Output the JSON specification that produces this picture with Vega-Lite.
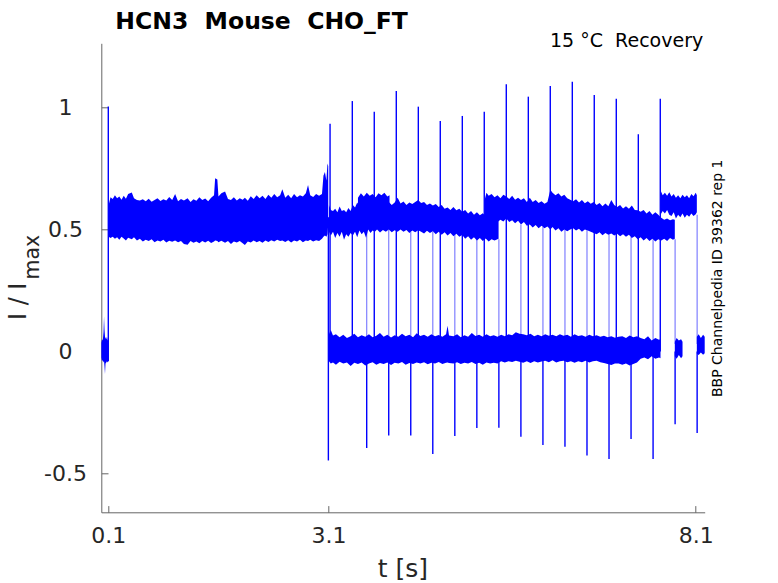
{
"$schema": "https://vega.github.io/schema/vega-lite/v6.json",
"width": 603.4,
"height": 469,
"autosize": {"type": "none"},
"padding": {"left": 101.3, "top": 43.3, "right": 73.3, "bottom": 70.7},
"title": {"text": "HCN3\u00a0\u00a0Mouse\u00a0\u00a0CHO_FT", "anchor": "start", "frame": "group", "dx": 14, "dy": 23.2, "offset": 2.6, "baseline": "alphabetic", "fontSize": 23.5, "fontWeight": "bold", "color": "#000000", "font": "DejaVu Sans"},
"config": {"font": "DejaVu Sans", "view": {"stroke": null}, "axis": {"grid": false}},
"datasets": {
"bands": [
{"s":"a","t":0.005,"lo":-0.025,"hi":0.035},{"s":"a","t":0.015,"lo":-0.04,"hi":0.05},{"s":"a","t":0.025,"lo":-0.035,"hi":0.045},{"s":"a","t":0.035,"lo":-0.045,"hi":0.08},{"s":"a","t":0.042,"lo":-0.04,"hi":0.143},{"s":"a","t":0.048,"lo":-0.06,"hi":0.09},{"s":"a","t":0.055,"lo":-0.093,"hi":0.06},{"s":"a","t":0.062,"lo":-0.05,"hi":0.055},{"s":"a","t":0.072,"lo":-0.045,"hi":0.05},{"s":"a","t":0.082,"lo":-0.04,"hi":0.06},{"s":"a","t":0.092,"lo":-0.045,"hi":0.045},{"s":"a","t":0.099,"lo":-0.04,"hi":0.05},
{"s":"b","t":0.105,"lo":0.47,"hi":0.6},{"s":"b","t":0.13,"lo":0.465,"hi":0.632},{"s":"b","t":0.16,"lo":0.47,"hi":0.625},{"s":"b","t":0.19,"lo":0.462,"hi":0.64},{"s":"b","t":0.22,"lo":0.468,"hi":0.628},{"s":"b","t":0.25,"lo":0.458,"hi":0.635},{"s":"b","t":0.28,"lo":0.47,"hi":0.622},{"s":"b","t":0.31,"lo":0.463,"hi":0.638},{"s":"b","t":0.34,"lo":0.455,"hi":0.626},{"s":"b","t":0.37,"lo":0.466,"hi":0.645},{"s":"b","t":0.42,"lo":0.46,"hi":0.651},{"s":"b","t":0.45,"lo":0.468,"hi":0.628},{"s":"b","t":0.49,"lo":0.455,"hi":0.62},{"s":"b","t":0.53,"lo":0.462,"hi":0.618},{"s":"b","t":0.57,"lo":0.45,"hi":0.624},{"s":"b","t":0.61,"lo":0.458,"hi":0.615},{"s":"b","t":0.65,"lo":0.452,"hi":0.626},{"s":"b","t":0.69,"lo":0.46,"hi":0.613},{"s":"b","t":0.73,"lo":0.447,"hi":0.62},{"s":"b","t":0.77,"lo":0.455,"hi":0.628},{"s":"b","t":0.81,"lo":0.45,"hi":0.616},{"s":"b","t":0.85,"lo":0.458,"hi":0.624},{"s":"b","t":0.89,"lo":0.446,"hi":0.618},{"s":"b","t":0.93,"lo":0.453,"hi":0.633},{"s":"b","t":0.97,"lo":0.449,"hi":0.62},{"s":"b","t":1.01,"lo":0.455,"hi":0.645},{"s":"b","t":1.05,"lo":0.447,"hi":0.615},{"s":"b","t":1.09,"lo":0.452,"hi":0.625},{"s":"b","t":1.13,"lo":0.44,"hi":0.618},{"s":"b","t":1.18,"lo":0.437,"hi":0.628},{"s":"b","t":1.22,"lo":0.452,"hi":0.612},{"s":"b","t":1.26,"lo":0.445,"hi":0.624},{"s":"b","t":1.3,"lo":0.45,"hi":0.617},{"s":"b","t":1.34,"lo":0.443,"hi":0.632},{"s":"b","t":1.38,"lo":0.452,"hi":0.62},{"s":"b","t":1.42,"lo":0.446,"hi":0.627},{"s":"b","t":1.46,"lo":0.453,"hi":0.615},{"s":"b","t":1.5,"lo":0.444,"hi":0.63},{"s":"b","t":1.54,"lo":0.45,"hi":0.64},{"s":"b","t":1.555,"lo":0.455,"hi":0.71},{"s":"b","t":1.585,"lo":0.452,"hi":0.705},{"s":"b","t":1.6,"lo":0.447,"hi":0.635},{"s":"b","t":1.64,"lo":0.453,"hi":0.648},{"s":"b","t":1.69,"lo":0.445,"hi":0.655},{"s":"b","t":1.73,"lo":0.452,"hi":0.625},{"s":"b","t":1.77,"lo":0.44,"hi":0.62},{"s":"b","t":1.81,"lo":0.45,"hi":0.632},{"s":"b","t":1.85,"lo":0.446,"hi":0.618},{"s":"b","t":1.89,"lo":0.452,"hi":0.628},{"s":"b","t":1.93,"lo":0.443,"hi":0.622},{"s":"b","t":1.96,"lo":0.436,"hi":0.63},{"s":"b","t":2.0,"lo":0.45,"hi":0.617},{"s":"b","t":2.04,"lo":0.446,"hi":0.636},{"s":"b","t":2.08,"lo":0.455,"hi":0.625},{"s":"b","t":2.12,"lo":0.447,"hi":0.64},{"s":"b","t":2.16,"lo":0.452,"hi":0.628},{"s":"b","t":2.2,"lo":0.445,"hi":0.638},{"s":"b","t":2.24,"lo":0.455,"hi":0.625},{"s":"b","t":2.28,"lo":0.448,"hi":0.642},{"s":"b","t":2.32,"lo":0.456,"hi":0.63},{"s":"b","t":2.36,"lo":0.45,"hi":0.645},{"s":"b","t":2.4,"lo":0.458,"hi":0.632},{"s":"b","t":2.44,"lo":0.452,"hi":0.64},{"s":"b","t":2.47,"lo":0.455,"hi":0.665},{"s":"b","t":2.51,"lo":0.448,"hi":0.63},{"s":"b","t":2.55,"lo":0.456,"hi":0.642},{"s":"b","t":2.59,"lo":0.446,"hi":0.628},{"s":"b","t":2.63,"lo":0.455,"hi":0.645},{"s":"b","t":2.67,"lo":0.45,"hi":0.632},{"s":"b","t":2.71,"lo":0.458,"hi":0.64},{"s":"b","t":2.75,"lo":0.447,"hi":0.635},{"s":"b","t":2.79,"lo":0.455,"hi":0.648},{"s":"b","t":2.82,"lo":0.452,"hi":0.682},{"s":"b","t":2.85,"lo":0.458,"hi":0.64},{"s":"b","t":2.89,"lo":0.45,"hi":0.633},{"s":"b","t":2.93,"lo":0.456,"hi":0.645},{"s":"b","t":2.97,"lo":0.452,"hi":0.638},{"s":"b","t":3.01,"lo":0.462,"hi":0.645},{"s":"b","t":3.03,"lo":0.47,"hi":0.72},{"s":"b","t":3.05,"lo":0.475,"hi":0.735},{"s":"b","t":3.07,"lo":0.47,"hi":0.7},{"s":"b","t":3.085,"lo":0.48,"hi":0.77},{"s":"b","t":3.095,"lo":0.52,"hi":0.76},
{"s":"c","t":3.105,"lo":0.49,"hi":0.6},{"s":"c","t":3.13,"lo":0.475,"hi":0.58},{"s":"c","t":3.16,"lo":0.49,"hi":0.575},{"s":"c","t":3.19,"lo":0.465,"hi":0.585},{"s":"c","t":3.22,"lo":0.485,"hi":0.57},{"s":"c","t":3.25,"lo":0.47,"hi":0.594},{"s":"c","t":3.28,"lo":0.49,"hi":0.575},{"s":"c","t":3.31,"lo":0.458,"hi":0.58},{"s":"c","t":3.34,"lo":0.48,"hi":0.57},{"s":"c","t":3.37,"lo":0.47,"hi":0.588},{"s":"c","t":3.4,"lo":0.485,"hi":0.575},{"s":"c","t":3.43,"lo":0.475,"hi":0.6},{"s":"c","t":3.46,"lo":0.49,"hi":0.59},{"s":"c","t":3.49,"lo":0.468,"hi":0.61},{"s":"c","t":3.52,"lo":0.495,"hi":0.595},{"s":"c","t":3.55,"lo":0.48,"hi":0.605},{"s":"c","t":3.58,"lo":0.49,"hi":0.59},{"s":"c","t":3.61,"lo":0.466,"hi":0.6},{"s":"c","t":3.64,"lo":0.5,"hi":0.61},{"s":"c","t":3.67,"lo":0.485,"hi":0.598},{"s":"c","t":3.7,"lo":0.495,"hi":0.612},{"s":"c","t":3.73,"lo":0.49,"hi":0.605},{"s":"c","t":3.76,"lo":0.5,"hi":0.615},{"s":"c","t":3.8,"lo":0.487,"hi":0.603},{"s":"c","t":3.84,"lo":0.498,"hi":0.618},{"s":"c","t":3.88,"lo":0.49,"hi":0.605},{"s":"c","t":3.92,"lo":0.5,"hi":0.612},{"s":"c","t":3.96,"lo":0.488,"hi":0.6},{"s":"c","t":4.0,"lo":0.497,"hi":0.61},{"s":"c","t":4.04,"lo":0.49,"hi":0.63},{"s":"c","t":4.08,"lo":0.5,"hi":0.606},{"s":"c","t":4.12,"lo":0.49,"hi":0.614},{"s":"c","t":4.16,"lo":0.498,"hi":0.6},{"s":"c","t":4.2,"lo":0.485,"hi":0.61},{"s":"c","t":4.24,"lo":0.495,"hi":0.604},{"s":"c","t":4.28,"lo":0.488,"hi":0.612},{"s":"c","t":4.32,"lo":0.497,"hi":0.62},{"s":"c","t":4.36,"lo":0.49,"hi":0.608},{"s":"c","t":4.4,"lo":0.483,"hi":0.612},{"s":"c","t":4.44,"lo":0.494,"hi":0.6},{"s":"c","t":4.48,"lo":0.485,"hi":0.606},{"s":"c","t":4.52,"lo":0.492,"hi":0.598},{"s":"c","t":4.56,"lo":0.48,"hi":0.604},{"s":"c","t":4.6,"lo":0.49,"hi":0.592},{"s":"c","t":4.64,"lo":0.478,"hi":0.6},{"s":"c","t":4.68,"lo":0.488,"hi":0.585},{"s":"c","t":4.72,"lo":0.475,"hi":0.59},{"s":"c","t":4.76,"lo":0.485,"hi":0.58},{"s":"c","t":4.8,"lo":0.472,"hi":0.592},{"s":"c","t":4.84,"lo":0.482,"hi":0.578},{"s":"c","t":4.88,"lo":0.47,"hi":0.585},{"s":"c","t":4.92,"lo":0.477,"hi":0.572},{"s":"c","t":4.96,"lo":0.462,"hi":0.58},{"s":"c","t":5.0,"lo":0.472,"hi":0.565},{"s":"c","t":5.04,"lo":0.458,"hi":0.575},{"s":"c","t":5.08,"lo":0.468,"hi":0.56},{"s":"c","t":5.12,"lo":0.455,"hi":0.57},{"s":"c","t":5.16,"lo":0.465,"hi":0.558},{"s":"c","t":5.2,"lo":0.452,"hi":0.566},{"s":"c","t":5.24,"lo":0.463,"hi":0.555},{"s":"c","t":5.28,"lo":0.45,"hi":0.562},{"s":"c","t":5.32,"lo":0.46,"hi":0.552},{"s":"c","t":5.36,"lo":0.455,"hi":0.558},{"s":"c","t":5.415,"lo":0.462,"hi":0.55},
{"s":"c2","t":3.5,"lo":0.56,"hi":0.63},{"s":"c2","t":3.54,"lo":0.545,"hi":0.648},{"s":"c2","t":3.58,"lo":0.56,"hi":0.635},{"s":"c2","t":3.62,"lo":0.55,"hi":0.65},{"s":"c2","t":3.66,"lo":0.562,"hi":0.638},{"s":"c2","t":3.7,"lo":0.548,"hi":0.645},{"s":"c2","t":3.74,"lo":0.56,"hi":0.632},{"s":"c2","t":3.78,"lo":0.552,"hi":0.648},{"s":"c2","t":3.82,"lo":0.565,"hi":0.64},{"s":"c2","t":3.86,"lo":0.555,"hi":0.65},{"s":"c2","t":3.9,"lo":0.565,"hi":0.635},{"s":"c2","t":3.93,"lo":0.56,"hi":0.64},
{"s":"d","t":5.225,"lo":0.55,"hi":0.62},{"s":"d","t":5.25,"lo":0.535,"hi":0.65},{"s":"d","t":5.28,"lo":0.548,"hi":0.638},{"s":"d","t":5.32,"lo":0.53,"hi":0.645},{"s":"d","t":5.36,"lo":0.545,"hi":0.632},{"s":"d","t":5.4,"lo":0.53,"hi":0.64},{"s":"d","t":5.44,"lo":0.54,"hi":0.628},{"s":"d","t":5.48,"lo":0.532,"hi":0.642},{"s":"d","t":5.52,"lo":0.545,"hi":0.635},{"s":"d","t":5.56,"lo":0.53,"hi":0.625},{"s":"d","t":5.6,"lo":0.537,"hi":0.638},{"s":"d","t":5.64,"lo":0.525,"hi":0.622},{"s":"d","t":5.68,"lo":0.535,"hi":0.63},{"s":"d","t":5.72,"lo":0.52,"hi":0.62},{"s":"d","t":5.76,"lo":0.53,"hi":0.628},{"s":"d","t":5.8,"lo":0.515,"hi":0.612},{"s":"d","t":5.84,"lo":0.52,"hi":0.63},{"s":"d","t":5.88,"lo":0.508,"hi":0.612},{"s":"d","t":5.92,"lo":0.518,"hi":0.62},{"s":"d","t":5.96,"lo":0.505,"hi":0.608},{"s":"d","t":6.0,"lo":0.515,"hi":0.615},{"s":"d","t":6.04,"lo":0.505,"hi":0.605},{"s":"d","t":6.08,"lo":0.512,"hi":0.612},{"s":"d","t":6.12,"lo":0.5,"hi":0.662},{"s":"d","t":6.15,"lo":0.51,"hi":0.65},{"s":"d","t":6.19,"lo":0.495,"hi":0.64},{"s":"d","t":6.23,"lo":0.505,"hi":0.648},{"s":"d","t":6.27,"lo":0.49,"hi":0.635},{"s":"d","t":6.31,"lo":0.5,"hi":0.642},{"s":"d","t":6.35,"lo":0.492,"hi":0.628},{"s":"d","t":6.39,"lo":0.5,"hi":0.622},{"s":"d","t":6.43,"lo":0.505,"hi":0.615},{"s":"d","t":6.47,"lo":0.495,"hi":0.624},{"s":"d","t":6.51,"lo":0.503,"hi":0.61},{"s":"d","t":6.55,"lo":0.49,"hi":0.62},{"s":"d","t":6.59,"lo":0.5,"hi":0.607},{"s":"d","t":6.63,"lo":0.495,"hi":0.615},{"s":"d","t":6.67,"lo":0.49,"hi":0.605},{"s":"d","t":6.71,"lo":0.485,"hi":0.612},{"s":"d","t":6.75,"lo":0.48,"hi":0.6},{"s":"d","t":6.79,"lo":0.488,"hi":0.608},{"s":"d","t":6.83,"lo":0.476,"hi":0.595},{"s":"d","t":6.87,"lo":0.485,"hi":0.606},{"s":"d","t":6.91,"lo":0.478,"hi":0.595},{"s":"d","t":6.95,"lo":0.483,"hi":0.62},{"s":"d","t":6.99,"lo":0.475,"hi":0.6},{"s":"d","t":7.03,"lo":0.482,"hi":0.592},{"s":"d","t":7.07,"lo":0.472,"hi":0.6},{"s":"d","t":7.11,"lo":0.48,"hi":0.586},{"s":"d","t":7.15,"lo":0.47,"hi":0.595},{"s":"d","t":7.19,"lo":0.478,"hi":0.585},{"s":"d","t":7.23,"lo":0.465,"hi":0.598},{"s":"d","t":7.27,"lo":0.472,"hi":0.58},{"s":"d","t":7.31,"lo":0.46,"hi":0.578},{"s":"d","t":7.35,"lo":0.468,"hi":0.572},{"s":"d","t":7.39,"lo":0.455,"hi":0.58},{"s":"d","t":7.43,"lo":0.465,"hi":0.565},{"s":"d","t":7.47,"lo":0.452,"hi":0.575},{"s":"d","t":7.51,"lo":0.462,"hi":0.56},{"s":"d","t":7.55,"lo":0.45,"hi":0.57},{"s":"d","t":7.59,"lo":0.46,"hi":0.56},{"s":"d","t":7.63,"lo":0.455,"hi":0.548},{"s":"d","t":7.67,"lo":0.462,"hi":0.54},{"s":"d","t":7.71,"lo":0.452,"hi":0.545},{"s":"d","t":7.75,"lo":0.465,"hi":0.538},{"s":"d","t":7.79,"lo":0.458,"hi":0.542},{"s":"d","t":7.815,"lo":0.462,"hi":0.54},
{"s":"e","t":7.62,"lo":0.56,"hi":0.66},{"s":"e","t":7.65,"lo":0.575,"hi":0.64},{"s":"e","t":7.68,"lo":0.565,"hi":0.65},{"s":"e","t":7.71,"lo":0.58,"hi":0.638},{"s":"e","t":7.74,"lo":0.56,"hi":0.652},{"s":"e","t":7.77,"lo":0.555,"hi":0.635},{"s":"e","t":7.8,"lo":0.57,"hi":0.645},{"s":"e","t":7.83,"lo":0.545,"hi":0.63},{"s":"e","t":7.86,"lo":0.56,"hi":0.64},{"s":"e","t":7.89,"lo":0.55,"hi":0.628},{"s":"e","t":7.92,"lo":0.565,"hi":0.642},{"s":"e","t":7.95,"lo":0.548,"hi":0.632},{"s":"e","t":7.98,"lo":0.56,"hi":0.64},{"s":"e","t":8.01,"lo":0.552,"hi":0.628},{"s":"e","t":8.04,"lo":0.565,"hi":0.645},{"s":"e","t":8.07,"lo":0.555,"hi":0.636},{"s":"e","t":8.1,"lo":0.562,"hi":0.65},{"s":"e","t":8.115,"lo":0.57,"hi":0.64},
{"s":"f","t":3.105,"lo":-0.04,"hi":0.07},{"s":"f","t":3.13,"lo":-0.05,"hi":0.088},{"s":"f","t":3.16,"lo":-0.045,"hi":0.065},{"s":"f","t":3.2,"lo":-0.055,"hi":0.07},{"s":"f","t":3.25,"lo":-0.042,"hi":0.058},{"s":"f","t":3.3,"lo":-0.05,"hi":0.068},{"s":"f","t":3.35,"lo":-0.045,"hi":0.055},{"s":"f","t":3.4,"lo":-0.06,"hi":0.062},{"s":"f","t":3.45,"lo":-0.047,"hi":0.072},{"s":"f","t":3.5,"lo":-0.052,"hi":0.058},{"s":"f","t":3.55,"lo":-0.045,"hi":0.066},{"s":"f","t":3.6,"lo":-0.058,"hi":0.06},{"s":"f","t":3.65,"lo":-0.05,"hi":0.07},{"s":"f","t":3.7,"lo":-0.044,"hi":0.058},{"s":"f","t":3.75,"lo":-0.055,"hi":0.064},{"s":"f","t":3.8,"lo":-0.048,"hi":0.075},{"s":"f","t":3.85,"lo":-0.052,"hi":0.06},{"s":"f","t":3.9,"lo":-0.045,"hi":0.068},{"s":"f","t":3.95,"lo":-0.056,"hi":0.057},{"s":"f","t":4.0,"lo":-0.047,"hi":0.066},{"s":"f","t":4.05,"lo":-0.05,"hi":0.06},{"s":"f","t":4.1,"lo":-0.043,"hi":0.072},{"s":"f","t":4.15,"lo":-0.055,"hi":0.062},{"s":"f","t":4.2,"lo":-0.048,"hi":0.068},{"s":"f","t":4.25,"lo":-0.052,"hi":0.058},{"s":"f","t":4.3,"lo":-0.045,"hi":0.074},{"s":"f","t":4.35,"lo":-0.05,"hi":0.063},{"s":"f","t":4.4,"lo":-0.044,"hi":0.068},{"s":"f","t":4.45,"lo":-0.053,"hi":0.06},{"s":"f","t":4.5,"lo":-0.046,"hi":0.07},{"s":"f","t":4.55,"lo":-0.05,"hi":0.062},{"s":"f","t":4.6,"lo":-0.043,"hi":0.067},{"s":"f","t":4.65,"lo":-0.052,"hi":0.06},{"s":"f","t":4.7,"lo":-0.046,"hi":0.07},{"s":"f","t":4.72,"lo":-0.045,"hi":0.105},{"s":"f","t":4.74,"lo":-0.048,"hi":0.065},{"s":"f","t":4.8,"lo":-0.05,"hi":0.062},{"s":"f","t":4.85,"lo":-0.044,"hi":0.07},{"s":"f","t":4.9,"lo":-0.052,"hi":0.058},{"s":"f","t":4.95,"lo":-0.046,"hi":0.066},{"s":"f","t":5.0,"lo":-0.05,"hi":0.06},{"s":"f","t":5.05,"lo":-0.043,"hi":0.075},{"s":"f","t":5.1,"lo":-0.052,"hi":0.063},{"s":"f","t":5.15,"lo":-0.047,"hi":0.068},{"s":"f","t":5.2,"lo":-0.055,"hi":0.06},{"s":"f","t":5.25,"lo":-0.045,"hi":0.07},{"s":"f","t":5.3,"lo":-0.05,"hi":0.062},{"s":"f","t":5.35,"lo":-0.046,"hi":0.066},{"s":"f","t":5.4,"lo":-0.05,"hi":0.06},{"s":"f","t":5.45,"lo":-0.04,"hi":0.068},{"s":"f","t":5.5,"lo":-0.045,"hi":0.062},{"s":"f","t":5.55,"lo":-0.04,"hi":0.07},{"s":"f","t":5.6,"lo":-0.043,"hi":0.066},{"s":"f","t":5.65,"lo":-0.038,"hi":0.078},{"s":"f","t":5.7,"lo":-0.042,"hi":0.072},{"s":"f","t":5.75,"lo":-0.046,"hi":0.07},{"s":"f","t":5.8,"lo":-0.04,"hi":0.066},{"s":"f","t":5.85,"lo":-0.048,"hi":0.072},{"s":"f","t":5.9,"lo":-0.04,"hi":0.062},{"s":"f","t":5.95,"lo":-0.045,"hi":0.068},{"s":"f","t":6.0,"lo":-0.041,"hi":0.062},{"s":"f","t":6.05,"lo":-0.038,"hi":0.07},{"s":"f","t":6.1,"lo":-0.044,"hi":0.064},{"s":"f","t":6.15,"lo":-0.036,"hi":0.068},{"s":"f","t":6.2,"lo":-0.045,"hi":0.062},{"s":"f","t":6.25,"lo":-0.04,"hi":0.07},{"s":"f","t":6.3,"lo":-0.038,"hi":0.064},{"s":"f","t":6.35,"lo":-0.044,"hi":0.068},{"s":"f","t":6.4,"lo":-0.04,"hi":0.06},{"s":"f","t":6.45,"lo":-0.046,"hi":0.07},{"s":"f","t":6.5,"lo":-0.04,"hi":0.063},{"s":"f","t":6.55,"lo":-0.044,"hi":0.066},{"s":"f","t":6.6,"lo":-0.038,"hi":0.06},{"s":"f","t":6.65,"lo":-0.045,"hi":0.068},{"s":"f","t":6.7,"lo":-0.04,"hi":0.062},{"s":"f","t":6.75,"lo":-0.038,"hi":0.066},{"s":"f","t":6.8,"lo":-0.044,"hi":0.06},{"s":"f","t":6.85,"lo":-0.048,"hi":0.064},{"s":"f","t":6.9,"lo":-0.052,"hi":0.058},{"s":"f","t":6.95,"lo":-0.056,"hi":0.062},{"s":"f","t":7.0,"lo":-0.05,"hi":0.056},{"s":"f","t":7.05,"lo":-0.05,"hi":0.06},{"s":"f","t":7.1,"lo":-0.055,"hi":0.062},{"s":"f","t":7.15,"lo":-0.05,"hi":0.055},{"s":"f","t":7.2,"lo":-0.058,"hi":0.065},{"s":"f","t":7.25,"lo":-0.052,"hi":0.058},{"s":"f","t":7.3,"lo":-0.045,"hi":0.062},{"s":"f","t":7.35,"lo":-0.03,"hi":0.055},{"s":"f","t":7.4,"lo":-0.025,"hi":0.05},{"s":"f","t":7.45,"lo":-0.032,"hi":0.062},{"s":"f","t":7.5,"lo":-0.02,"hi":0.045},{"s":"f","t":7.55,"lo":-0.03,"hi":0.055},{"s":"f","t":7.6,"lo":-0.025,"hi":0.048},{"s":"f","t":7.62,"lo":-0.028,"hi":0.05},
{"s":"g","t":7.815,"lo":-0.02,"hi":0.04},{"s":"g","t":7.84,"lo":-0.03,"hi":0.055},{"s":"g","t":7.87,"lo":-0.015,"hi":0.045},{"s":"g","t":7.9,"lo":-0.028,"hi":0.05},{"s":"g","t":7.92,"lo":-0.02,"hi":0.04},
{"s":"h","t":8.115,"lo":-0.01,"hi":0.06},{"s":"h","t":8.14,"lo":-0.015,"hi":0.07},{"s":"h","t":8.17,"lo":-0.005,"hi":0.055},{"s":"h","t":8.2,"lo":-0.014,"hi":0.068},{"s":"h","t":8.222,"lo":-0.008,"hi":0.06}
],
"spikes": [
{"t":0.1,"a":-0.04,"b":1.004},{"t":3.097,"a":0.55,"b":-0.447},{"t":3.12,"a":0.0,"b":0.933},
{"t":3.423,"a":0.0,"b":1.026},{"t":3.722,"a":0.0,"b":0.982},{"t":4.022,"a":0.0,"b":1.067},{"t":4.322,"a":0.0,"b":1.003},{"t":4.621,"a":0.0,"b":0.944},{"t":4.921,"a":0.0,"b":0.965},{"t":5.22,"a":0.0,"b":0.982},{"t":5.52,"a":0.0,"b":1.095},{"t":5.82,"a":0.0,"b":1.044},{"t":6.119,"a":0.0,"b":1.088},{"t":6.419,"a":0.0,"b":1.105},{"t":6.718,"a":0.0,"b":1.051},{"t":7.018,"a":0.0,"b":1.035},{"t":7.318,"a":0.0,"b":0.89},{"t":7.617,"a":0.0,"b":1.035},
{"t":3.619,"a":0.0,"b":-0.396},{"t":3.919,"a":0.0,"b":-0.345},{"t":4.219,"a":0.0,"b":-0.345},{"t":4.519,"a":0.0,"b":-0.42},{"t":4.819,"a":0.0,"b":-0.347},{"t":5.119,"a":0.0,"b":-0.314},{"t":5.419,"a":0.0,"b":-0.313},{"t":5.719,"a":0.0,"b":-0.35},{"t":6.019,"a":0.0,"b":-0.384},{"t":6.319,"a":0.0,"b":-0.391},{"t":6.619,"a":0.0,"b":-0.427},{"t":6.919,"a":0.0,"b":-0.441},{"t":7.219,"a":0.0,"b":-0.359},{"t":7.519,"a":0.0,"b":-0.441},{"t":7.819,"a":0.0,"b":-0.299},{"t":8.119,"a":0.0,"b":-0.334}
],
"conn": [
{"t":3.619,"a":0.03,"b":0.49},{"t":3.919,"a":0.03,"b":0.5},{"t":4.219,"a":0.03,"b":0.49},{"t":4.519,"a":0.03,"b":0.49},{"t":4.819,"a":0.03,"b":0.48},{"t":5.119,"a":0.03,"b":0.46},{"t":5.419,"a":0.03,"b":0.46},{"t":5.719,"a":0.03,"b":0.52},{"t":6.019,"a":0.03,"b":0.51},{"t":6.319,"a":0.03,"b":0.5},{"t":6.619,"a":0.03,"b":0.5},{"t":6.919,"a":0.03,"b":0.48},{"t":7.219,"a":0.03,"b":0.47},{"t":7.519,"a":0.03,"b":0.46},{"t":7.819,"a":0.03,"b":0.46},{"t":8.119,"a":0.03,"b":0.56}
]
},
"layer": [
{
"data": {"name": "bands"},
"mark": {"type": "area", "color": "#0000ff", "opacity": 1, "interpolate": "linear"},
"encoding": {
"x": {"field": "t", "type": "quantitative", "scale": {"domain": [0.0047, 8.222], "nice": false, "zero": false},
 "axis": {"orient": "bottom", "values": [0.1, 3.1, 8.1], "format": ".1f", "labelFlush": false, "labelFontSize": 22, "labelColor": "#262626", "labelBaseline": "alphabetic", "labelPadding": 36.7, "tickSize": -6.7, "tickColor": "#666666", "domainColor": "#666666", "domainWidth": 1, "title": "t [s]", "titleFontSize": 25, "titleFontWeight": "normal", "titleColor": "#262626", "titleX": 301, "titleY": 63.7, "titleBaseline": "alphabetic", "titleAlign": "center"}},
"y": {"field": "hi", "type": "quantitative", "scale": {"domain": [-0.6594, 1.2627], "nice": false, "zero": false},
 "axis": {"orient": "left", "values": [-0.5, 0, 0.5, 1], "labelExpr": "datum.value < 0 ? '-' + format(-datum.value, '~g') : format(datum.value, '~g')", "labelFontSize": 22, "labelColor": "#262626", "labelAlign": "center", "labelBaseline": "middle", "labelPadding": 43, "tickSize": -6.7, "tickColor": "#666666", "domainColor": "#666666", "domainWidth": 1, "title": "I / I", "titleFontSize": 24, "titleFontWeight": "normal", "titleColor": "#262626", "titleAngle": 270, "titleX": -76.3, "titleY": 257.5, "titleAlign": "center", "titleBaseline": "alphabetic"}},
"y2": {"field": "lo"},
"detail": {"field": "s"}
}
},
{
"data": {"name": "spikes"},
"mark": {"type": "rule", "color": "#0000ff", "strokeWidth": 1.4},
"encoding": {
"x": {"field": "t", "type": "quantitative", "scale": {"domain": [0.0047, 8.222], "nice": false, "zero": false},
 "axis": {"orient": "top", "domain": false, "ticks": false, "labels": false, "title": "15 °C\u00a0\u00a0Recovery", "titleFontSize": 19, "titleFontWeight": "normal", "titleColor": "#000000", "titleX": 601.4, "titleY": 3.4, "titleAlign": "right", "titleBaseline": "alphabetic", "titleAngle": 0}},
"y": {"field": "a", "type": "quantitative", "scale": {"domain": [-0.6594, 1.2627], "nice": false, "zero": false},
 "axis": {"orient": "right", "domain": false, "ticks": false, "labels": false, "title": "BBP Channelpedia ID 39362 rep 1", "titleFontSize": 14, "titleFontWeight": "normal", "titleColor": "#000000", "titleAngle": 270, "titleX": 16.5, "titleY": 234.5, "titleAlign": "center", "titleBaseline": "alphabetic"}},
"y2": {"field": "b"}
}
},
{
"data": {"name": "conn"},
"mark": {"type": "rule", "color": "#0000ff", "strokeWidth": 1.2, "opacity": 0.5},
"encoding": {
"x": {"field": "t", "type": "quantitative", "scale": {"domain": [0.0047, 8.222], "nice": false, "zero": false}, "axis": null},
"y": {"field": "a", "type": "quantitative", "scale": {"domain": [-0.6594, 1.2627], "nice": false, "zero": false},
 "axis": {"orient": "left", "domain": false, "ticks": false, "labels": false, "title": "max", "titleFontSize": 20.5, "titleFontWeight": "normal", "titleColor": "#262626", "titleAngle": 270, "titleX": -63, "titleY": 213.4, "titleAlign": "center", "titleBaseline": "alphabetic"}},
"y2": {"field": "b"}
}
}
],
"resolve": {"axis": {"x": "independent", "y": "independent"}}
}
